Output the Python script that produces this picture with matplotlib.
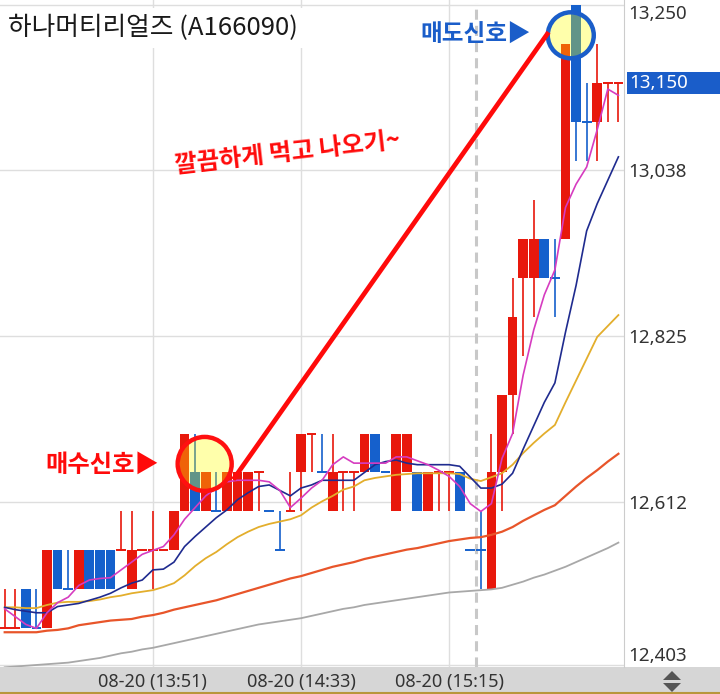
import numpy as np
import matplotlib
matplotlib.use("Agg")
import matplotlib.pyplot as plt
from matplotlib.patches import Circle, Rectangle, Polygon
from matplotlib.lines import Line2D
from matplotlib.transforms import IdentityTransform, blended_transform_factory

plt.rcParams['font.family'] = ['Noto Sans CJK KR', 'DejaVu Sans']

# ---------------- data ----------------
title = "하나머티리얼즈 (A166090)"
tick_idx = [14, 28, 42]
tick_labels = ["08-20 (13:51)", "08-20 (14:33)", "08-20 (15:15)"]
price_ticks = [12403, 12612, 12825, 13038, 13250]
price_tick_labels = ["12,403", "12,612", "12,825", "13,038", "13,250"]
last_price = 13150
last_price_label = "13,150"

opens = [12450, 12450, 12500, 12450, 12450, 12550, 12500, 12500, 12550, 12550,
         12550, 12550, 12500, 12550, 12550, 12550, 12550, 12600, 12650, 12600,
         12600, 12600, 12600, 12600, 12650, 12600, 12550, 12600, 12650, 12700,
         12650, 12600, 12650, 12650, 12650, 12700, 12650, 12600, 12650, 12650,
         12600, 12650, 12650, 12650, 12550, 12550, 12500, 12650, 12750, 12900,
         12900, 12950, 12900, 12950, 13250, 13100, 13100, 13150, 13150]
highs = [12500, 12500, 12500, 12500, 12550, 12550, 12550, 12550, 12550, 12550,
         12550, 12600, 12600, 12550, 12600, 12550, 12600, 12700, 12700, 12650,
         12650, 12650, 12650, 12650, 12650, 12600, 12600, 12650, 12700, 12700,
         12700, 12700, 12650, 12650, 12700, 12700, 12650, 12700, 12700, 12650,
         12650, 12650, 12650, 12650, 12550, 12600, 12700, 12750, 12900, 12950,
         13000, 12950, 12950, 13200, 13250, 13150, 13200, 13150, 13150]
lows = [12450, 12450, 12450, 12450, 12450, 12500, 12500, 12500, 12500, 12500,
        12500, 12550, 12500, 12550, 12500, 12550, 12550, 12600, 12600, 12600,
        12600, 12600, 12600, 12600, 12600, 12600, 12550, 12600, 12600, 12650,
        12650, 12600, 12600, 12600, 12650, 12650, 12650, 12600, 12650, 12600,
        12600, 12600, 12600, 12600, 12550, 12500, 12500, 12600, 12700, 12800,
        12850, 12900, 12850, 12950, 13050, 13050, 13050, 13100, 13100]
closes = [12450, 12450, 12450, 12450, 12550, 12500, 12500, 12550, 12500, 12500,
          12500, 12550, 12550, 12550, 12550, 12550, 12600, 12700, 12600, 12650,
          12600, 12650, 12650, 12650, 12650, 12600, 12550, 12600, 12700, 12700,
          12650, 12650, 12650, 12650, 12700, 12650, 12650, 12700, 12700, 12600,
          12650, 12650, 12650, 12600, 12550, 12550, 12650, 12750, 12850, 12950,
          12950, 12900, 12900, 13200, 13100, 13100, 13150, 13150, 13150]
# u = rising (red), d = falling (blue)
direction = ("uudduddudd" "duuuuuuudu" "duuuudduuu" "duuuudduud"
             "uuuddduuuu" "uddudduuu")

ma5 = [12475, 12465, 12455, 12450, 12470, 12483, 12490, 12505, 12512, 12514,
       12515, 12525, 12535, 12545, 12550, 12555, 12570, 12590, 12605, 12620,
       12630, 12638, 12640, 12640, 12640, 12638, 12627, 12605, 12617, 12630,
       12640, 12660, 12670, 12662, 12662, 12662, 12662, 12670, 12670, 12665,
       12660, 12653, 12645, 12632, 12610, 12600, 12610, 12668, 12700, 12775,
       12833, 12878, 12910, 12990, 13020, 13042, 13090, 13142, 13134]
ma10 = [12477, 12474, 12472, 12470, 12470, 12478, 12480, 12482, 12486, 12490,
        12495, 12502, 12508, 12512, 12525, 12526, 12535, 12555, 12568, 12580,
        12592, 12602, 12615, 12624, 12632, 12634, 12627, 12620, 12630, 12634,
        12640, 12640, 12640, 12640, 12650, 12660, 12664, 12666, 12662, 12660,
        12660, 12660, 12660, 12658, 12644, 12630, 12630, 12635, 12649, 12680,
        12710, 12740, 12765, 12830, 12890, 12960, 12995, 13025, 13055]
ma20 = [12477, 12477, 12476, 12476, 12480, 12483, 12484, 12484, 12485, 12487,
        12490, 12492, 12495, 12497, 12499, 12503, 12508, 12518, 12530, 12540,
        12548, 12558, 12567, 12574, 12580, 12584, 12587, 12590, 12595, 12605,
        12613, 12620, 12628, 12632, 12640, 12643, 12645, 12647, 12648, 12649,
        12649, 12649, 12649, 12648, 12642, 12639, 12644, 12649, 12660, 12675,
        12688, 12700, 12711, 12740, 12768, 12796, 12824, 12838, 12852]
ma60 = [12445, 12445, 12445, 12445, 12447, 12448, 12450, 12454, 12456, 12458,
        12460, 12461, 12462, 12465, 12467, 12470, 12474, 12477, 12480, 12483,
        12486, 12490, 12494, 12498, 12502, 12506, 12510, 12514, 12517, 12521,
        12525, 12529, 12532, 12535, 12539, 12542, 12545, 12548, 12551, 12553,
        12556, 12559, 12562, 12564, 12566, 12567, 12570, 12574, 12580, 12588,
        12595, 12602, 12608, 12620, 12632, 12643, 12653, 12664, 12674]
ma120 = [12400, 12401, 12402, 12403, 12404, 12405, 12406, 12408, 12410, 12412,
         12415, 12418, 12420, 12423, 12425, 12428, 12431, 12434, 12437, 12440,
         12443, 12446, 12449, 12452, 12455, 12457, 12459, 12461, 12463, 12466,
         12469, 12472, 12475, 12477, 12480, 12482, 12484, 12486, 12488, 12490,
         12492, 12494, 12496, 12497, 12498, 12499, 12500, 12502, 12506, 12510,
         12515, 12519, 12524, 12529, 12535, 12541, 12547, 12553, 12560]

day_break = 44.5          # between last candle of day and next session
buy_signal = (18.9, 12661)  # candle index, price
sell_signal = (53.5, 13211)
trade_line = [(21.6, 12641), (51.4, 13215)]

buy_text = "매수신호▶"
sell_text = "매도신호▶"
comment_text = "깔끔하게 먹고 나오기~"

# ---------------- figure ----------------
W, H = 720, 694
fig = plt.figure(figsize=(W / 100, H / 100), dpi=100)
fig.patch.set_facecolor('white')

ax = fig.add_axes([0, 1 - 667 / H, 624 / W, 667 / H])
ax.set_xlim(-0.444, 58.53)
ax.set_ylim(12400.4, 13256.3)

RED = '#e8180c'
BLUE = '#1560cc'

o = np.array(opens, float); c = np.array(closes, float)
hi = np.array(highs, float); lo = np.array(lows, float)
x = np.arange(len(o))
up = np.array([d == 'u' for d in direction])
cols = np.where(up, RED, BLUE)

ax.vlines(x, lo, hi, colors=cols, lw=1.2, zorder=3)
bh = np.abs(c - o)
m = bh > 0
ax.bar(x[m], bh[m], bottom=np.minimum(o, c)[m], width=0.92, color=cols[m],
       zorder=4, linewidth=0)
ax.hlines(o[~m], x[~m] - 0.46, x[~m] + 0.46, colors=cols[~m], lw=1.4, zorder=4)

ax.plot(x, ma120, color='#a8a8a8', lw=1.3, zorder=5)
ax.plot(x, ma60, color='#e8552a', lw=1.6, zorder=5)
ax.plot(x, ma20, color='#e3ae2c', lw=1.3, zorder=5)
ax.plot(x, ma10, color='#1f2b8f', lw=1.2, zorder=5)
ax.plot(x, ma5, color='#d63cc0', lw=1.2, zorder=5)

# grid
ax.set_yticks(price_ticks)
ax.set_yticklabels(price_tick_labels)
ax.set_xticks(tick_idx)
ax.set_xticklabels(tick_labels)
ax.grid(True, color='#dedede', lw=1, zorder=0)
ax.set_axisbelow(True)
ax.yaxis.tick_right()
ax.tick_params(axis='both', length=0, labelcolor='#333333')
ax.tick_params(axis='y', labelsize=13.5, pad=3)
ax.tick_params(axis='x', labelsize=13, pad=4)
for lbl in ax.get_yticklabels() + ax.get_xticklabels():
    lbl.set_family(['Noto Sans', 'DejaVu Sans'])
ylabels = ax.get_yticklabels()
ylabels[0].set_va('bottom')
ylabels[-1].set_va('top')
for s in ['top', 'left', 'bottom']:
    ax.spines[s].set_visible(False)
ax.spines['right'].set_color('#cccccc')

ax.axvline(day_break, ymin=0, ymax=0.995, color='#c8c8c8', lw=2.2,
           ls=(0, (3.3, 2.0)), zorder=2)

# current price box
bt = blended_transform_factory(fig.transFigure, ax.transData)
ax.add_patch(Rectangle((627 / W, last_price - 14), 93 / W, 28, transform=bt,
                       facecolor='#1a5dc9', edgecolor='none', clip_on=False, zorder=10))
ax.text(629 / W, last_price, last_price_label, transform=bt, color='white',
        fontsize=13.5, va='center', ha='left', family=['Noto Sans', 'DejaVu Sans'],
        zorder=11, clip_on=False)

# signal circles
fig.canvas.draw()
for (sx, sy), r, ec in [(buy_signal, 27, '#ff1010'), (sell_signal, 23, '#1a5dc9')]:
    cx, cy = ax.transData.transform((sx, sy))
    ax.add_artist(Circle((cx, cy), r, transform=IdentityTransform(),
                         facecolor=(1, 1, 0, 0.33), edgecolor=ec, lw=3.2, zorder=8,
                         clip_on=False))

(lx0, ly0), (lx1, ly1) = trade_line
ax.plot([lx0, lx1], [ly0, ly1], color='#ff0a0a', lw=3.4, zorder=9,
        solid_capstyle='butt')

# texts
fig.text(8 / W, 1 - 28 / H, title, fontsize=18.5, color='#1a1a1a', va='center',
         ha='left', bbox=dict(boxstyle='square,pad=0.25', fc='white', ec='none'),
         zorder=20)
fig.text(45 / W, 1 - 465 / H, buy_text, fontsize=17.5, color='#ff0a0a',
         fontweight='bold', va='center', ha='left', zorder=20)
fig.text(420 / W, 1 - 34 / H, sell_text, fontsize=17, color='#1a5dc9',
         fontweight='bold', va='center', ha='left', zorder=20)
fig.text(288 / W, 1 - 153 / H, comment_text, fontsize=17.5, color='#ff0a0a',
         fontweight='bold', va='center', ha='center', rotation=6.5,
         rotation_mode='anchor', zorder=20)

# bottom band
fig.add_artist(Rectangle((0, 0), 1, 27 / H, transform=fig.transFigure,
                         facecolor='#d6d6d6', edgecolor='none', zorder=-5))
fig.add_artist(Line2D([0, 1], [1.5 / H, 1.5 / H], transform=fig.transFigure,
                      color='#b8963c', lw=1.5, zorder=-4))
fig.add_artist(Polygon([(663 / W, 1 - 680 / H), (681 / W, 1 - 680 / H), (672 / W, 1 - 671 / H)],
                       closed=True, transform=fig.transFigure, fc='#555555', ec='none'))
fig.add_artist(Polygon([(663 / W, 1 - 683 / H), (681 / W, 1 - 683 / H), (672 / W, 1 - 692 / H)],
                       closed=True, transform=fig.transFigure, fc='#555555', ec='none'))

fig.savefig('out.png', dpi=100)
